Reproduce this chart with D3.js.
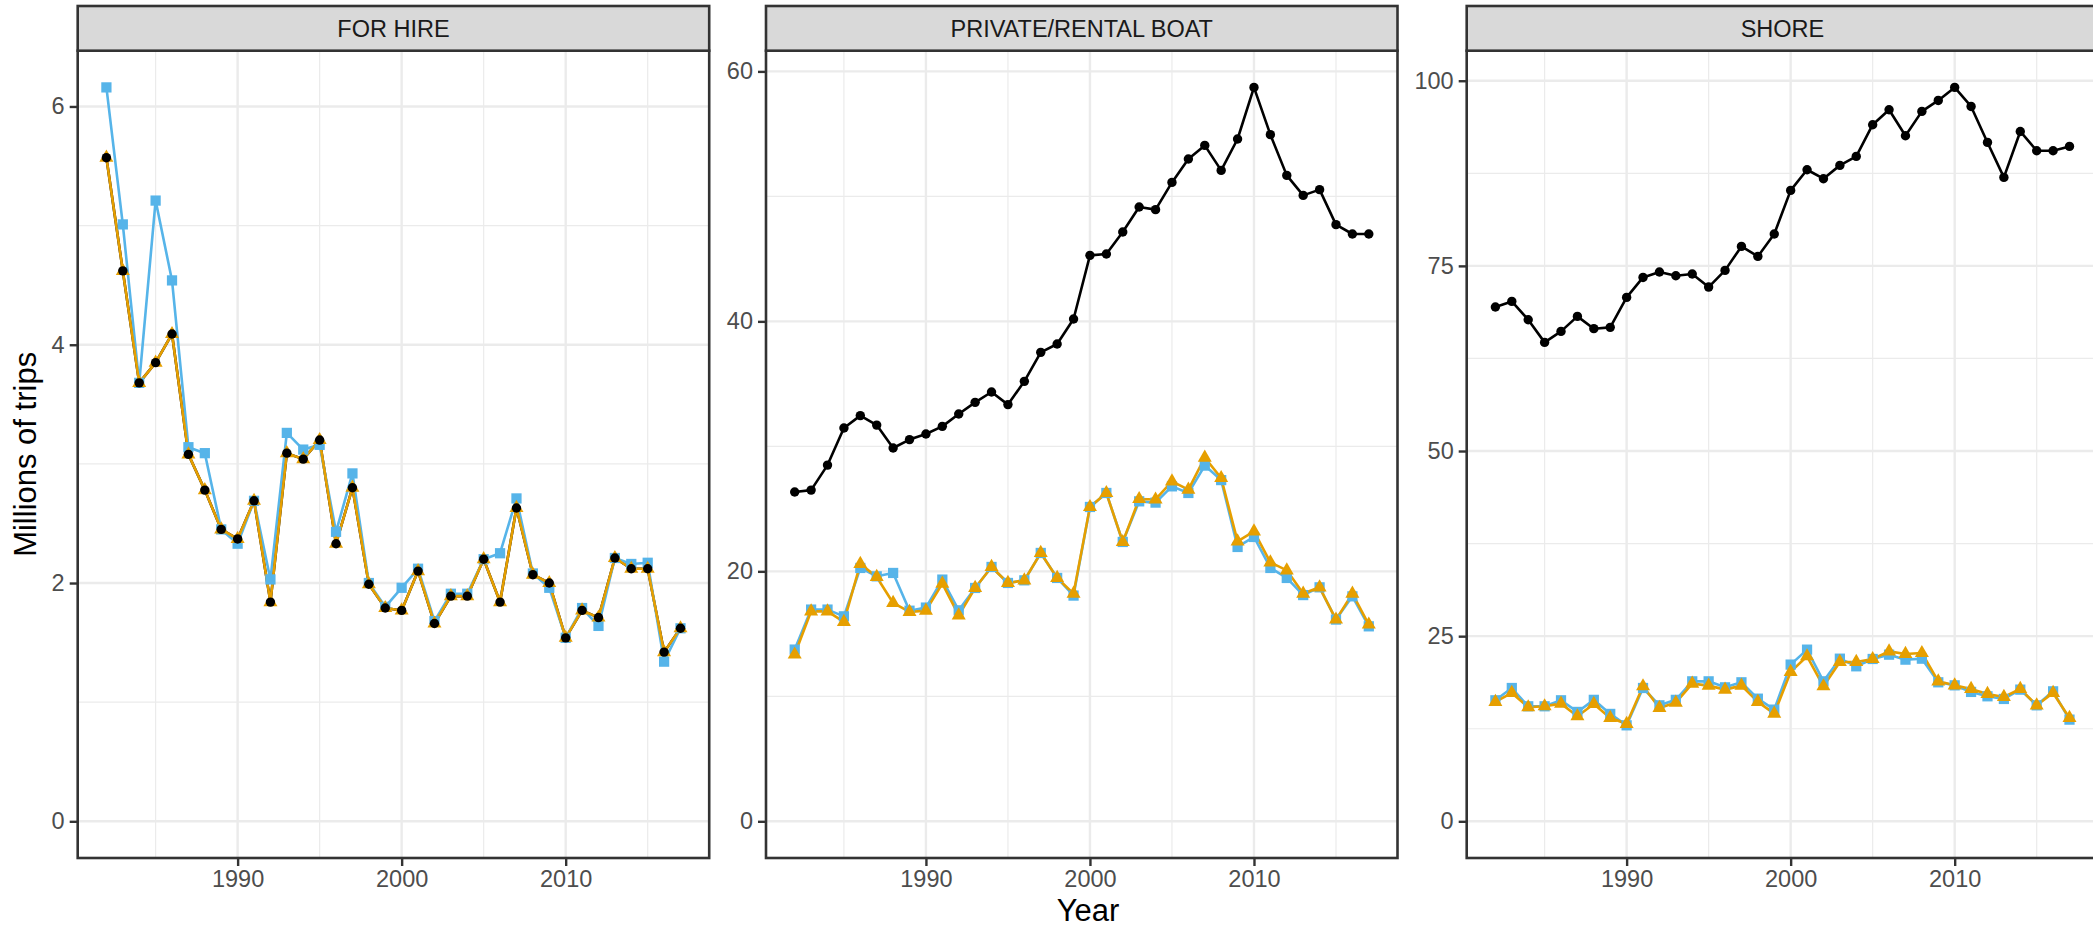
<!DOCTYPE html>
<html>
<head>
<meta charset="utf-8">
<script src="https://cdn.jsdelivr.net/npm/d3@7"></script>
<style>
  body { margin: 0; background: #fff; }
  svg { display: block; font-family: "Liberation Sans", Arial, sans-serif; }
</style>
</head>
<body>
<script>
// years on the x axis
const years = [1982, 1983, 1984, 1985, 1986, 1987, 1988, 1989, 1990, 1991, 1992, 1993,
  1994, 1995, 1996, 1997, 1998, 1999, 2000, 2001, 2002, 2003, 2004, 2005,
  2006, 2007, 2008, 2009, 2010, 2011, 2012, 2013, 2014, 2015, 2016, 2017];
const xTicks = [1990, 2000, 2010];

// FOR HIRE (millions of trips)
const forHireBlack = [5.57, 4.62, 3.68, 3.85, 4.09, 3.08, 2.78, 2.45, 2.37, 2.69, 1.84, 3.09,
  3.04, 3.20, 2.33, 2.80, 1.99, 1.79, 1.77, 2.10, 1.66, 1.89, 1.89, 2.20,
  1.84, 2.63, 2.07, 2.00, 1.54, 1.77, 1.71, 2.21, 2.12, 2.12, 1.42, 1.62];
const forHireOrange = [5.57, 4.62, 3.68, 3.85, 4.09, 3.08, 2.78, 2.45, 2.37, 2.69, 1.84, 3.09,
  3.04, 3.20, 2.33, 2.80, 1.99, 1.79, 1.77, 2.10, 1.66, 1.89, 1.89, 2.20,
  1.84, 2.63, 2.07, 2.00, 1.54, 1.77, 1.71, 2.21, 2.12, 2.12, 1.42, 1.62];
const forHireBlue = [6.16, 5.01, 3.68, 5.21, 4.54, 3.14, 3.09, 2.45, 2.33, 2.69, 2.03, 3.26,
  3.12, 3.16, 2.43, 2.92, 2.00, 1.80, 1.96, 2.12, 1.68, 1.91, 1.91, 2.20,
  2.25, 2.71, 2.08, 1.96, 1.54, 1.79, 1.64, 2.21, 2.16, 2.17, 1.34, 1.62];

// PRIVATE/RENTAL BOAT
const boatBlack = [26.35, 26.5, 28.5, 31.47, 32.46, 31.7, 29.87, 30.54, 30.99, 31.6, 32.59, 33.52,
  34.35, 33.34, 35.2, 37.52, 38.19, 40.19, 45.28, 45.39, 47.15, 49.15, 48.94, 51.12,
  52.99, 54.08, 52.08, 54.59, 58.72, 54.94, 51.68, 50.08, 50.54, 47.74, 46.99, 46.99];
const boatOrange = [13.34, 16.8, 16.8, 15.95, 20.6, 19.55, 17.47, 16.75, 16.86, 19.02, 16.48, 18.67,
  20.35, 19.07, 19.28, 21.47, 19.47, 18.22, 25.15, 26.27, 22.35, 25.79, 25.75, 27.2,
  26.54, 29.1, 27.47, 22.4, 23.2, 20.72, 20.08, 18.22, 18.72, 16.14, 18.22, 15.74];
const boatBlue = [13.74, 16.94, 16.94, 16.4, 20.27, 19.6, 19.87, 16.85, 17.1, 19.34, 16.88, 18.67,
  20.35, 19.07, 19.28, 21.47, 19.47, 18.06, 25.15, 26.27, 22.35, 25.6, 25.5, 26.8,
  26.27, 28.46, 27.3, 21.95, 22.75, 20.27, 19.47, 18.1, 18.72, 16.14, 18.0, 15.6];

// SHORE
const shoreBlack = [69.44, 70.2, 67.73, 64.67, 66.15, 68.18, 66.52, 66.7, 70.74, 73.44, 74.17, 73.67,
  73.9, 72.14, 74.39, 77.63, 76.28, 79.3, 85.19, 87.98, 86.77, 88.57, 89.78, 94.06,
  96.08, 92.57, 95.86, 97.34, 99.1, 96.53, 91.67, 86.95, 93.15, 90.55, 90.55, 91.13];
const shoreOrange = [16.12, 17.33, 15.4, 15.53, 15.89, 14.18, 15.85, 13.96, 13.16, 18.23, 15.31, 16.03,
  18.59, 18.32, 17.78, 18.32, 16.12, 14.54, 20.17, 22.28, 18.23, 21.52, 21.52, 21.92,
  22.95, 22.6, 22.73, 18.9, 18.36, 17.87, 17.2, 16.79, 17.87, 15.66, 17.33, 13.96];
const shoreBlue = [16.34, 18.0, 15.53, 15.53, 16.34, 14.77, 16.4, 14.5, 12.96, 18.0, 15.66, 16.4,
  18.9, 18.9, 18.09, 18.77, 16.56, 15.08, 21.16, 23.18, 18.9, 21.96, 20.93, 21.92,
  22.5, 21.83, 21.96, 18.77, 18.36, 17.47, 16.88, 16.52, 17.78, 15.66, 17.55, 13.73];

const panelNames = ["FOR HIRE", "PRIVATE/RENTAL BOAT", "SHORE"];
const yTicks = [[0, 2, 4, 6], [0, 20, 40, 60], [0, 25, 50, 75, 100]];
const yMinor = [[1, 3, 5], [10, 30, 50], [12.5, 37.5, 62.5, 87.5]];
const xMinor = [1985, 1995, 2005, 2015];

const panels = [
  { black: forHireBlack, orange: forHireOrange, blue: forHireBlue },
  { black: boatBlack, orange: boatOrange, blue: boatBlue },
  { black: shoreBlack, orange: shoreOrange, blue: shoreBlue }
];

const W = 2093, H = 929;
const panelLeft = [77.7, 766, 1466.7];
const panelW = 631.5;
const stripTop = 6, panelTop = 50.7, panelBottom = 858;
const colBlack = "#000000", colOrange = "#E69F00", colBlue = "#56B4E9";
const grid = "#EBEBEB", border = "#333333";
const tickFont = "23.5px", titleFont = "31px";

const svg = d3.select("body").append("svg")
  .attr("width", W)
  .attr("height", H);

panels.forEach(function (p, i) {
  const x0 = panelLeft[i];
  // ggplot style 5% expansion
  const xScale = d3.scaleLinear()
    .domain([1982 - 1.75, 2017 + 1.75])
    .range([x0, x0 + panelW]);
  const ymax = d3.max([].concat(p.black, p.orange, p.blue));
  const yScale = d3.scaleLinear()
    .domain([-0.05 * ymax, ymax * 1.05])
    .range([panelBottom, panelTop]);

  const g = svg.append("g");

  // background grid
  g.selectAll(".ymin").data(yMinor[i]).enter().append("line")
    .attr("x1", x0).attr("x2", x0 + panelW)
    .attr("y1", d => yScale(d)).attr("y2", d => yScale(d))
    .attr("stroke", grid).attr("stroke-width", 1.2);
  g.selectAll(".xmin").data(xMinor).enter().append("line")
    .attr("y1", panelTop).attr("y2", panelBottom)
    .attr("x1", d => xScale(d)).attr("x2", d => xScale(d))
    .attr("stroke", grid).attr("stroke-width", 1.2);
  g.selectAll(".ymaj").data(yTicks[i]).enter().append("line")
    .attr("x1", x0).attr("x2", x0 + panelW)
    .attr("y1", d => yScale(d)).attr("y2", d => yScale(d))
    .attr("stroke", grid).attr("stroke-width", 2.4);
  g.selectAll(".xmaj").data(xTicks).enter().append("line")
    .attr("y1", panelTop).attr("y2", panelBottom)
    .attr("x1", d => xScale(d)).attr("x2", d => xScale(d))
    .attr("stroke", grid).attr("stroke-width", 2.4);

  // lines
  const line = d3.line()
    .x((d, k) => xScale(years[k]))
    .y(d => yScale(d));
  [[p.black, colBlack], [p.blue, colBlue], [p.orange, colOrange]].forEach(function (s) {
    g.append("path")
      .datum(s[0])
      .attr("d", line)
      .attr("fill", "none")
      .attr("stroke", s[1])
      .attr("stroke-width", 2.6)
      .attr("stroke-linejoin", "round");
  });

  // points: squares, then triangles, then circles on top
  g.selectAll(".sq").data(p.blue).enter().append("path")
    .attr("d", d3.symbol(d3.symbolSquare, 105))
    .attr("transform", (d, k) => "translate(" + xScale(years[k]) + "," + yScale(d) + ")")
    .attr("fill", colBlue);
  g.selectAll(".tri").data(p.orange).enter().append("path")
    .attr("d", d3.symbol(d3.symbolTriangle, 85))
    .attr("transform", (d, k) => "translate(" + xScale(years[k]) + "," + yScale(d) + ")")
    .attr("fill", colOrange);
  g.selectAll(".dot").data(p.black).enter().append("circle")
    .attr("cx", (d, k) => xScale(years[k]))
    .attr("cy", d => yScale(d))
    .attr("r", 4.7)
    .attr("fill", colBlack);

  // panel border
  g.append("rect")
    .attr("x", x0).attr("y", panelTop)
    .attr("width", panelW).attr("height", panelBottom - panelTop)
    .attr("fill", "none").attr("stroke", border).attr("stroke-width", 2.6);

  // strip
  g.append("rect")
    .attr("x", x0).attr("y", stripTop)
    .attr("width", panelW).attr("height", panelTop - stripTop)
    .attr("fill", "#D9D9D9").attr("stroke", border).attr("stroke-width", 2.6);
  g.append("text")
    .attr("x", x0 + panelW / 2).attr("y", (stripTop + panelTop) / 2)
    .attr("dy", "0.36em")
    .attr("text-anchor", "middle")
    .attr("fill", "#1A1A1A")
    .style("font-size", tickFont)
    .text(panelNames[i]);

  // axes
  const yAxis = d3.axisLeft(yScale).tickValues(yTicks[i]).tickSize(8).tickPadding(5)
    .tickFormat(d3.format("~g"));
  const ya = g.append("g").attr("transform", "translate(" + x0 + ",0)").call(yAxis);
  const xAxis = d3.axisBottom(xScale).tickValues(xTicks).tickSize(8).tickPadding(4)
    .tickFormat(d3.format("d"));
  const xa = g.append("g").attr("transform", "translate(0," + panelBottom + ")").call(xAxis);
  [ya, xa].forEach(function (a) {
    a.select(".domain").remove();
    a.selectAll(".tick line").attr("stroke", border).attr("stroke-width", 2.4);
    a.selectAll(".tick text")
      .attr("fill", "#4D4D4D")
      .style("font-size", tickFont)
      .style("font-family", "'Liberation Sans', Arial, sans-serif");
  });
});

// axis titles
svg.append("text")
  .attr("x", (panelLeft[0] + panelLeft[2] + panelW) / 2)
  .attr("y", 921)
  .attr("text-anchor", "middle")
  .style("font-size", titleFont)
  .text("Year");

svg.append("text")
  .attr("transform", "translate(36," + ((panelTop + panelBottom) / 2) + ") rotate(-90)")
  .attr("text-anchor", "middle")
  .style("font-size", titleFont)
  .text("Millions of trips");
</script>
</body>
</html>
